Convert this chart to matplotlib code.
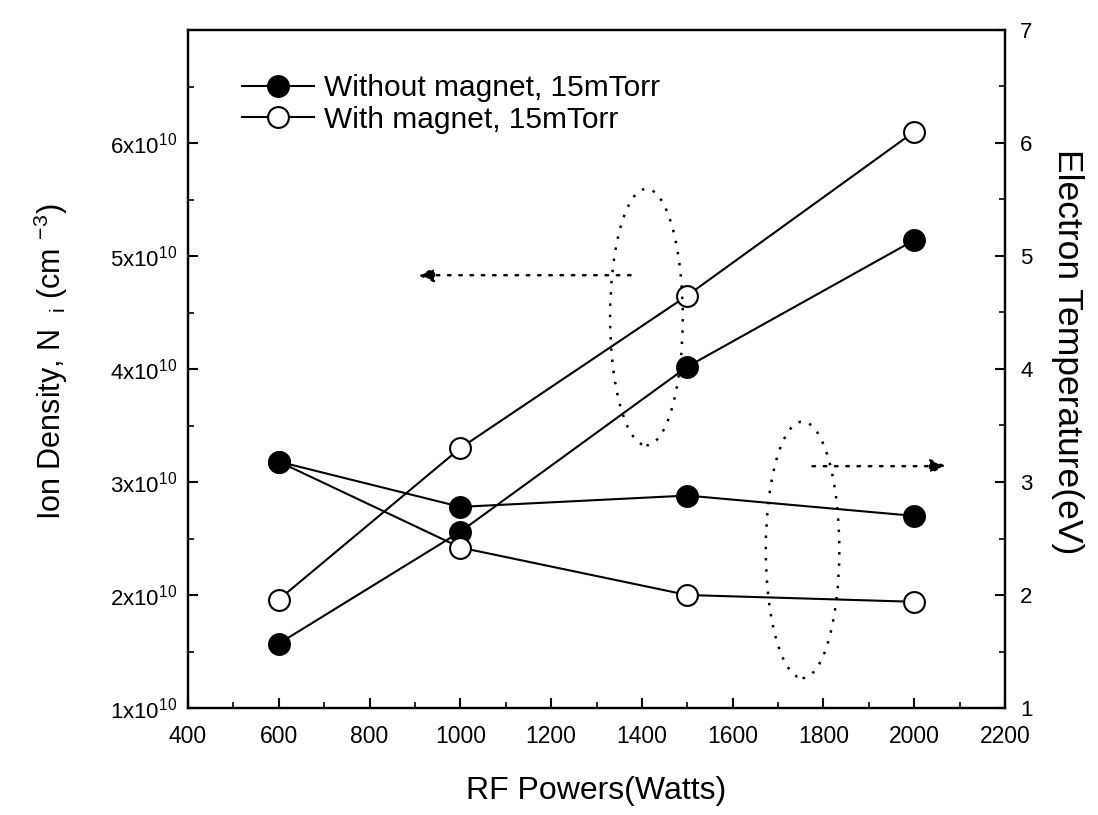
import matplotlib
matplotlib.use("Agg")
import matplotlib.pyplot as plt
from matplotlib.patches import Ellipse
from matplotlib.ticker import MultipleLocator, FuncFormatter

plt.rcParams['font.family'] = ['Liberation Sans', 'DejaVu Sans']
plt.rcParams['mathtext.default'] = 'regular'

# ---- data ----
power = [600, 1000, 1500, 2000]
density_without = [1.57e10, 2.56e10, 4.02e10, 5.14e10]
density_with = [1.96e10, 3.30e10, 4.65e10, 6.10e10]
te_without = [3.18, 2.78, 2.88, 2.70]
te_with = [3.18, 2.42, 2.00, 1.94]
legend_labels = ["Without magnet, 15mTorr", "With magnet, 15mTorr"]
xlabel = "RF Powers(Watts)"
ylabel_left = "Ion Density, N $_{\\ i}$ (cm $^{-3}$)"
ylabel_right = "Electron Temperature(eV)"

fig = plt.figure(figsize=(10.98, 8.15), dpi=100)
ax = fig.add_axes([188/1098, 1-708/815, (1005-188)/1098, (708-30)/815])
ax2 = ax.twinx()

lw = 1.5
ms = 15
mkw_filled = dict(marker='o', markersize=ms, markerfacecolor='black', markeredgecolor='black',
                  color='black', lw=lw, markeredgewidth=1.5)
mkw_open = dict(marker='o', markersize=ms, markerfacecolor='white', markeredgecolor='black',
                color='black', lw=lw, markeredgewidth=1.5)

h1, = ax.plot(power, density_without, zorder=3, **mkw_filled)
h2, = ax.plot(power, density_with, zorder=3, **mkw_open)
ax2.plot(power, te_with, zorder=3, **mkw_open)
ax2.plot(power, te_without, zorder=4, **mkw_filled)

ax.set_xlim(400, 2200)
ax.set_ylim(1e10, 7e10)
ax2.set_ylim(1, 7)

ax.xaxis.set_major_locator(MultipleLocator(200))
ax.xaxis.set_minor_locator(MultipleLocator(100))
ax.set_yticks([1e10, 2e10, 3e10, 4e10, 5e10, 6e10])
ax.yaxis.set_minor_locator(MultipleLocator(0.5e10))
ax.yaxis.set_major_formatter(FuncFormatter(lambda v, p: f"{int(round(v/1e10))}x10$^{{10}}$"))
ax2.yaxis.set_major_locator(MultipleLocator(1))
ax2.yaxis.set_minor_locator(MultipleLocator(0.5))

for a in (ax, ax2):
    for s in a.spines.values():
        s.set_linewidth(1.6)
ax.tick_params(axis='both', which='major', direction='in', length=7, width=1.5)
ax.tick_params(axis='both', which='minor', direction='in', length=4, width=1.2)
ax.tick_params(axis='x', pad=12, labelsize=16.5)
ax.tick_params(axis='y', pad=8, labelsize=16)
ax2.tick_params(axis='y', which='major', direction='in', length=7, width=1.5, labelsize=16, pad=11)
ax2.tick_params(axis='y', which='minor', direction='in', length=4, width=1.2)

ax.set_xlabel(xlabel, fontsize=23)
ax.xaxis.set_label_coords(0.5, -0.1)
ax.set_ylabel(ylabel_left, fontsize=22, va='center')
ax.yaxis.set_label_coords(-0.168, 0.51)
ax2.set_ylabel(ylabel_right, fontsize=25.5, rotation=270, va='center')
ax2.yaxis.set_label_coords(1.076, 0.525)

# annotations (in right-axis units)
dot = (0, (1, 3.5))
ax2.add_patch(Ellipse((1410, 4.46), 160, 2.27, fill=False, lw=1.8, ls=dot, color='black'))
ax2.add_patch(Ellipse((1754, 2.40), 162, 2.27, fill=False, lw=1.8, ls=dot, color='black'))
ax2.annotate('', xy=(905, 4.83), xytext=(1375, 4.83),
             arrowprops=dict(arrowstyle='-|>,head_length=0.7,head_width=0.3', lw=1.8, ls=dot,
                             color='black', mutation_scale=14, shrinkA=0, shrinkB=0))
ax2.annotate('', xy=(2072, 3.14), xytext=(1776, 3.14),
             arrowprops=dict(arrowstyle='-|>,head_length=0.7,head_width=0.3', lw=1.8, ls=dot,
                             color='black', mutation_scale=14, shrinkA=0, shrinkB=0))

fig.legend([h1, h2], legend_labels, loc='upper left', bbox_to_anchor=(242/1098, 1-74/815),
           frameon=False, fontsize=21.5, handlelength=2.4, handletextpad=0.35,
           labelspacing=0.12, borderpad=0, borderaxespad=0)

fig.savefig("out.png", dpi=100)
